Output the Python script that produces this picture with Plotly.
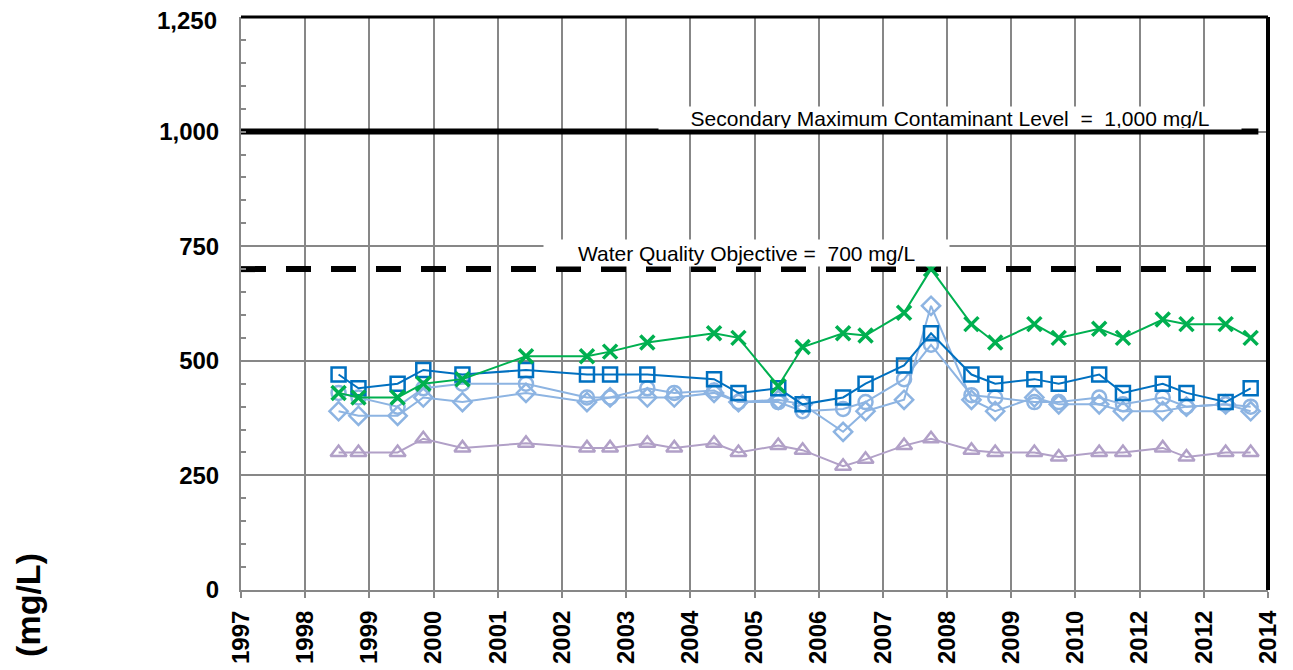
import plotly.graph_objects as go

# ---- data ----
tick_positions = list(range(1997, 2014))
tick_labels = ["1997", "1998", "1999", "2000", "2001", "2002", "2003", "2004", "2005",
               "2006", "2007", "2008", "2009", "2010", "2012", "2012", "2014"]
y_tick_values = [0, 250, 500, 750, 1000, 1250]
y_tick_labels = ["0", "250", "500", "750", "1,000", "1,250"]

sample_x = [1998.52, 1998.83, 1999.44, 1999.84, 2000.45, 2001.44, 2002.39, 2002.75,
            2003.33, 2003.75, 2004.37, 2004.75, 2005.37, 2005.75, 2006.38, 2006.73,
            2007.33, 2007.75, 2008.38, 2008.75, 2009.36, 2009.74, 2010.37, 2010.74,
            2011.36, 2011.73, 2012.34, 2012.73]

series_square = [470, 440, 450, 480, 470, 480, 470, 470, 470, None, 460, 430, 440, 405,
                 420, 450, 490, 560, 470, 450, 460, 450, 470, 430, 450, 430, 410, 440]
series_circle = [430, 420, 400, 440, 450, 450, 420, 420, 440, 430, 435, 410, 410, 390,
                 395, 410, 460, 535, 425, 420, 410, 410, 420, 405, 420, 400, 405, 400]
series_diamond = [390, 380, 380, 420, 410, 430, 410, 420, 420, 420, 430, 410, 415, 405,
                  345, 390, 415, 620, 415, 390, 420, 405, 405, 390, 390, 400, 405, 390]
series_x = [430, 420, 420, 450, 460, 510, 510, 520, 540, None, 560, 550, 445, 530,
            560, 555, 605, 700, 580, 540, 580, 550, 570, 550, 590, 580, 580, 550]
series_triangle = [300, 300, 300, 330, 310, 320, 310, 310, 320, 310, 320, 300, 315, 305,
                   270, 285, 315, 330, 305, 300, 300, 290, 300, 300, 310, 290, 300, 300]

smcl_x = [1997, 2012.85]
smcl_y = [1000, 1000]
wqo_x = [1997, 2013]
wqo_y = [700, 700]

smcl_text = "Secondary Maximum Contaminant Level  =  1,000 mg/L"
wqo_text = "Water Quality Objective =  700 mg/L"
y_title = "(mg/L)"

# ---- styles ----
FONT = "Liberation Sans, Arial, sans-serif"
GRID = "#878787"
DARK_BLUE = "#0070C0"
LIGHT_BLUE = "#8DB4E2"
GREEN = "#00B050"
PURPLE = "#B1A0C7"
TICK_FONT = dict(family=FONT, size=24, color="black", weight="bold")

fig = go.Figure()

fig.add_trace(go.Scatter(x=smcl_x, y=smcl_y, mode="lines",
                         line=dict(color="black", width=6), hoverinfo="skip"))
fig.add_trace(go.Scatter(x=wqo_x, y=wqo_y, mode="lines",
                         line=dict(color="black", width=6, dash="25px,20px"), hoverinfo="skip"))

fig.add_trace(go.Scatter(x=sample_x, y=series_triangle, mode="lines+markers",
                         line=dict(color=PURPLE, width=2), connectgaps=True,
                         marker=dict(symbol="triangle-up-open", size=14, color=PURPLE,
                                     line=dict(width=2.5, color=PURPLE))))
fig.add_trace(go.Scatter(x=sample_x, y=series_diamond, mode="lines+markers",
                         line=dict(color=LIGHT_BLUE, width=2), connectgaps=True,
                         marker=dict(symbol="diamond-open", size=14, color=LIGHT_BLUE,
                                     line=dict(width=2.5, color=LIGHT_BLUE))))
fig.add_trace(go.Scatter(x=sample_x, y=series_circle, mode="lines+markers",
                         line=dict(color=LIGHT_BLUE, width=2), connectgaps=True,
                         marker=dict(symbol="circle-open", size=14, color=LIGHT_BLUE,
                                     line=dict(width=2.5, color=LIGHT_BLUE))))
fig.add_trace(go.Scatter(x=sample_x, y=series_square, mode="lines+markers",
                         line=dict(color=DARK_BLUE, width=2), connectgaps=True,
                         marker=dict(symbol="square-open", size=14, color=DARK_BLUE,
                                     line=dict(width=2.5, color=DARK_BLUE))))
fig.add_trace(go.Scatter(x=sample_x, y=series_x, mode="lines+markers",
                         line=dict(color=GREEN, width=2), connectgaps=True,
                         marker=dict(symbol="x-thin-open", size=14, color=GREEN,
                                     line=dict(width=3.5, color=GREEN))))

fig.add_annotation(x=2008.04, y=1029, xref="x", yref="y", text=smcl_text,
                   showarrow=False, bgcolor="white", width=580, height=20,
                   font=dict(family=FONT, size=21, color="black"))
fig.add_annotation(x=2004.87, y=736, xref="x", yref="y", text=wqo_text,
                   showarrow=False, bgcolor="white", width=403, height=24,
                   font=dict(family=FONT, size=21, color="black"))
fig.add_annotation(x=-0.2074, y=-0.026, xref="paper", yref="paper", text=y_title,
                   showarrow=False, textangle=-90, xanchor="center", yanchor="middle",
                   font=dict(family=FONT, size=34, color="black", weight="bold"))
# top y tick label sits slightly below its gridline (as in the reference)
fig.add_annotation(x=0, y=y_tick_values[-1], xref="paper", yref="y",
                   text=y_tick_labels[-1], showarrow=False, xanchor="right",
                   yanchor="middle", xshift=-22, yshift=-3, font=TICK_FONT)

# plot-area border (top black, right black)
fig.add_shape(type="line", xref="paper", yref="paper", x0=0, x1=1, y0=1, y1=1,
              line=dict(color="black", width=3))
fig.add_shape(type="line", xref="paper", yref="paper", x0=1, x1=1, y0=0, y1=1,
              line=dict(color="black", width=4))

# the page places the figure 8px from the top-left corner
fig.update_layout(
    width=1293, height=670,
    margin=dict(l=233, r=33, t=9, b=88, autoexpand=False),
    paper_bgcolor="white", plot_bgcolor="white",
    showlegend=False,
    font=dict(family=FONT, color="black"),
)
fig.update_xaxes(range=[1997, 2013], tickmode="array", tickvals=tick_positions,
                 ticktext=tick_labels, tickangle=-90, automargin=False,
                 tickfont=TICK_FONT,
                 showgrid=True, gridcolor=GRID, gridwidth=2,
                 showline=True, linecolor=GRID, linewidth=2,
                 ticks="outside", ticklen=6, tickcolor=GRID, tickwidth=1.5,
                 zeroline=False, ticklabelstandoff=3, ticklabeloverflow="allow")
fig.update_yaxes(range=[0, 1250], tickmode="array", tickvals=y_tick_values,
                 ticktext=y_tick_labels[:-1] + [""], automargin=False,
                 tickfont=TICK_FONT,
                 showgrid=True, gridcolor=GRID, gridwidth=2,
                 showline=True, linecolor=GRID, linewidth=2,
                 ticks="inside", ticklen=5, tickcolor=GRID, tickwidth=1.5,
                 minor=dict(dtick=50, ticks="inside", ticklen=5, tickcolor=GRID,
                            tickwidth=1.5, showgrid=False),
                 zeroline=False, ticklabelstandoff=15, ticklabeloverflow="allow")

fig.write_html("out.html")
